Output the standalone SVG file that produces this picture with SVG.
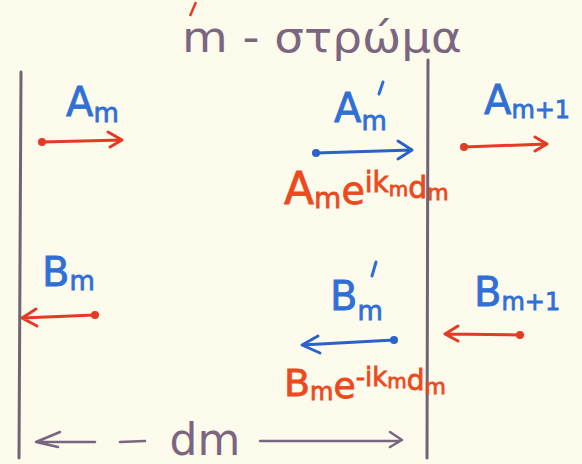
<svg xmlns="http://www.w3.org/2000/svg" width="582" height="464" viewBox="0 0 582 464">
<defs>
<style>
.bg{fill:#fdfbec}
.wall{stroke:#6e6674;stroke-width:3;fill:none;stroke-linecap:round}
.b{fill:#2f6fd6;font-family:"DejaVu Sans",sans-serif;stroke:#2f6fd6;stroke-width:0.8}
.r{fill:#ec4a1e;font-family:"DejaVu Sans",sans-serif;stroke:#ec4a1e;stroke-width:0.8}
.p{fill:#7a6680;font-family:"DejaVu Sans",sans-serif}
.ra{stroke:#e43a26;stroke-width:3;fill:none;stroke-linecap:round;stroke-linejoin:round}
.ba{stroke:#2a62c8;stroke-width:3;fill:none;stroke-linecap:round;stroke-linejoin:round}
.pa{stroke:#7a6680;stroke-width:2.5;fill:none;stroke-linecap:round;stroke-linejoin:round}
</style>
</defs>
<rect class="bg" x="0" y="0" width="582" height="464"/>
<g id="walls">
<path class="wall" d="M21 72 L19 458"/>
<path class="wall" d="M428 60 L427 458"/>
</g>
<g id="title">
<path d="M196 2 L190 16" stroke="#e43a26" stroke-width="2.5"/>
<text class="p" x="322" y="52" font-size="42" text-anchor="middle" textLength="280" lengthAdjust="spacingAndGlyphs">m - στρώμα</text>
</g>
<g id="Am">
<text class="b" x="66" y="116" font-size="40">A<tspan font-size="26" dy="6">m</tspan></text>
</g>
<g id="Amp">
<text class="b" x="334" y="122" font-size="40">A<tspan font-size="26" dy="8">m</tspan></text>
<path d="M383 82 L379 94" stroke="#2f6fd6" stroke-width="3" stroke-linecap="round"/>
</g>
<g id="Am1">
<text class="b" x="484" y="114" font-size="40">A<tspan font-size="24" dy="4">m+1</tspan></text>
</g>
<g id="Bm">
<text class="b" x="42" y="286" font-size="40">B<tspan font-size="26" dy="4">m</tspan></text>
</g>
<g id="Bmp">
<text class="b" x="330" y="310" font-size="40">B<tspan font-size="26" dy="10">m</tspan></text>
<path d="M376 262 L372 276" stroke="#2f6fd6" stroke-width="3" stroke-linecap="round"/>
</g>
<g id="Bm1">
<text class="b" x="474" y="306" font-size="40">B<tspan font-size="24" dy="4">m+1</tspan></text>
</g>
<g id="AmExp">
<text class="r" x="284" y="204" font-size="44">A<tspan font-size="28" dy="4">m</tspan><tspan font-size="38" dy="-4">e</tspan><tspan font-size="28" dy="-12">ik<tspan font-size="20" dy="4">m</tspan><tspan font-size="30" dy="2">d<tspan font-size="22" dy="2">m</tspan></tspan></tspan></text>
</g>
<g id="BmExp">
<text class="r" x="284" y="396" font-size="38">B<tspan font-size="24" dy="4">m</tspan><tspan font-size="36" dy="-2">e</tspan><tspan font-size="26" dy="-12">-ik<tspan font-size="20" dy="2">m</tspan><tspan font-size="28" dy="2">d<tspan font-size="22" dy="4">m</tspan></tspan></tspan></text>
</g>
<g id="connectors">
<path class="ra" d="M42 142 L122 140 M108 132 L122 140 L110 147"/>
<circle cx="42" cy="142" r="4" fill="#e43a26"/>
<path class="ba" d="M316 153 L412 150 M398 141 L412 150 L398 159"/>
<circle cx="316" cy="153" r="4" fill="#2a62c8"/>
<path class="ra" d="M464 147 L547 144 M535 137 L547 144 L535 151"/>
<circle cx="464" cy="147" r="4" fill="#e43a26"/>
<path class="ra" d="M95 315 L22 318 M36 309 L22 318 L37 326"/>
<circle cx="95" cy="315" r="4" fill="#e43a26"/>
<path class="ba" d="M394 340 L302 345 M318 336 L302 345 L320 353"/>
<circle cx="394" cy="340" r="4" fill="#2a62c8"/>
<path class="ra" d="M520 335 L445 334 M458 326 L445 334 L458 341"/>
<circle cx="520" cy="335" r="4" fill="#e43a26"/>
<path class="pa" d="M60 432 L36 442 L58 447 M40 442 L95 442 M120 442 L145 441"/>
<path class="pa" d="M260 441 L400 441 M390 432 L402 440 L390 447"/>
</g>
<g id="dm">
<text class="p" x="205" y="455" font-size="44" text-anchor="middle">dm</text>
</g>
</svg>
